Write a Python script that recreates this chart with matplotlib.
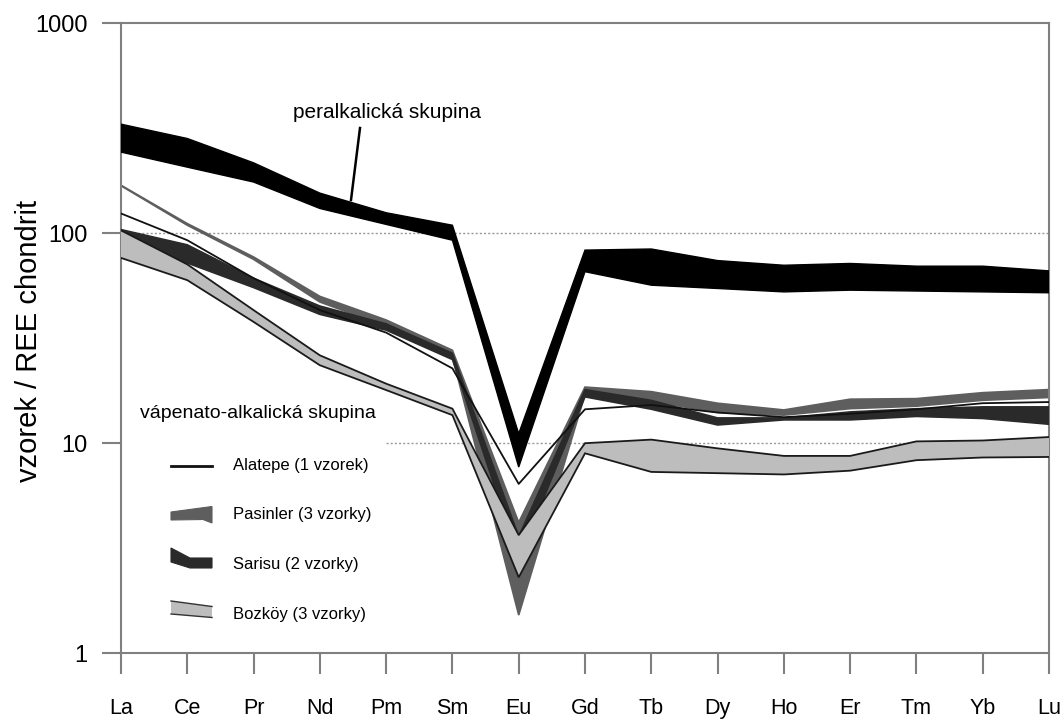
import matplotlib
matplotlib.use("Agg")
import matplotlib.pyplot as plt
from matplotlib.patches import Polygon
from matplotlib.lines import Line2D
from matplotlib.ticker import NullLocator

plt.rcParams['font.family'] = ['Liberation Sans', 'DejaVu Sans']

elements = ['La', 'Ce', 'Pr', 'Nd', 'Pm', 'Sm', 'Eu', 'Gd', 'Tb', 'Dy', 'Ho', 'Er', 'Tm', 'Yb', 'Lu']

peralk_hi = [330, 282, 216, 155, 125, 109, 11.1, 83, 84, 74, 70.3, 71.7, 69.6, 69.6, 66.1]
peralk_lo = [243, 206, 175, 131, 110, 92.5, 7.7, 65.5, 56.5, 54.5, 52.5, 53.5, 53, 52.5, 52]

alatepe = [124, 92.5, 61, 43, 33.6, 22.7, 6.4, 14.5, 15.2, 14.0, 13.3, 13.8, 14.5, 15.5, 15.7]

pasinler_hi = [169, 111, 77, 50, 38.6, 27.7, 4.2, 18.5, 17.6, 15.5, 14.4, 16.2, 16.3, 17.4, 18.0]
pasinler_lo = [168, 109, 75, 47, 36, 25.8, 1.52, 17.0, 15.8, 14.0, 13.6, 14.6, 15.0, 16.0, 16.5]

sarisu_hi = [104, 88, 61, 45, 37, 26.8, 3.6, 18.0, 16.0, 13.2, 13.2, 14.1, 14.6, 14.9, 14.9]
sarisu_lo = [102, 72, 55, 41, 34.5, 25.0, 2.8, 16.6, 14.5, 12.2, 12.9, 12.9, 13.4, 13.1, 12.3]

bozkoy_hi = [103, 71, 43, 26.2, 19.2, 14.6, 3.65, 10.0, 10.4, 9.45, 8.7, 8.7, 10.2, 10.3, 10.7]
bozkoy_lo = [76.2, 59.7, 37.8, 23.5, 17.9, 13.6, 2.3, 8.95, 7.3, 7.2, 7.1, 7.4, 8.3, 8.55, 8.6]

yticks = [1, 10, 100, 1000]
ytick_labels = ['1', '10', '100', '1000']

legend_title = 'vápenato-alkalická skupina'
legend_labels = ['Alatepe (1 vzorek)', 'Pasinler (3 vzorky)', 'Sarisu (2 vzorky)', 'Bozköy (3 vzorky)']

C_PAS = '#5e5e5e'
C_SAR = '#2a2a2a'
C_BOZ = '#bdbdbd'
C_SPINE = '#808080'

W, H = 1062, 719
fig = plt.figure(figsize=(W / 100, H / 100), dpi=100)
AX_L, AX_R, AX_T, AX_B = 121, 1049, 23, 653.3
ax = fig.add_axes([AX_L / W, 1 - AX_B / H, (AX_R - AX_L) / W, (AX_B - AX_T) / H])

x = list(range(len(elements)))

ax.set_yscale('log')
ax.set_ylim(1, 1000)
ax.set_xlim(0, len(elements) - 1)

# grid lines
ax.hlines(100, 0, len(elements) - 1, colors='#999999', linestyles=(0, (1.5, 1.5)), lw=1.0, zorder=1)
ax.hlines(10, 4, len(elements) - 1, colors='#999999', linestyles=(0, (1.5, 1.5)), lw=1.0, zorder=1)

def band(lo, hi, fc, ec, lw, z):
    ax.fill_between(x, lo, hi, facecolor=fc, edgecolor='none', lw=0, zorder=z)
    ax.plot(x, lo, color=ec, lw=lw, zorder=z + 0.1, solid_joinstyle='miter')
    ax.plot(x, hi, color=ec, lw=lw, zorder=z + 0.1, solid_joinstyle='miter')

band(pasinler_lo, pasinler_hi, C_PAS, C_PAS, 1.2, 2)
band(sarisu_lo, sarisu_hi, C_SAR, C_SAR, 1.1, 3)
band(bozkoy_lo, bozkoy_hi, C_BOZ, '#1a1a1a', 1.3, 4)
ax.plot(x, alatepe, color='#111111', lw=1.3, zorder=5)
band(peralk_lo, peralk_hi, '#000000', '#000000', 1.0, 6)

# axes styling
for s in ax.spines.values():
    s.set_color(C_SPINE)
    s.set_linewidth(1.5)
ax.set_xticks(x)
ax.set_xticklabels(elements)
ax.set_yticks(yticks)
ax.set_yticklabels(ytick_labels)
ax.yaxis.set_minor_locator(NullLocator())
ax.tick_params(axis='x', direction='out', length=15, width=1.5, color=C_SPINE,
               pad=17, labelsize=15.5)
ax.tick_params(axis='y', direction='out', length=14, width=1.5, color=C_SPINE,
               pad=10, labelsize=17)

fig.text(29 / W, 1 - 341 / H, 'vzorek / REE chondrit', rotation=90,
         ha='center', va='center', fontsize=21)

def pa(px, py):
    return ((px - AX_L) / (AX_R - AX_L), (AX_B - py) / (AX_B - AX_T))

# peralkalic annotation
ax.text(*pa(293, 113), 'peralkalická skupina', transform=ax.transAxes,
        ha='left', va='center', fontsize=15, zorder=10)
ax.add_line(Line2D(*zip(pa(360, 128), pa(351, 200)), transform=ax.transAxes,
                   color='black', lw=1.8, zorder=10))

# legend
ax.text(*pa(140, 414), legend_title, transform=ax.transAxes, ha='left', va='center',
        fontsize=14, zorder=10)
entry_y = [465.7, 515, 564, 615]
for lab, yy in zip(legend_labels, entry_y):
    ax.text(*pa(233, yy), lab, transform=ax.transAxes, ha='left', va='center',
            fontsize=12, zorder=10)

ax.add_line(Line2D(*zip(pa(171, 466), pa(212, 466)), transform=ax.transAxes,
                   color='#111111', lw=2.0, zorder=10))
ax.add_patch(Polygon([pa(171, 512), pa(212, 506.5), pa(212, 523), pa(203, 519.5), pa(171, 520)],
                     closed=True, transform=ax.transAxes, facecolor=C_PAS, edgecolor=C_PAS,
                     lw=0.8, zorder=10))
ax.add_patch(Polygon([pa(171, 548), pa(190, 558), pa(212, 558), pa(212, 568), pa(190, 568), pa(171, 562)],
                     closed=True, transform=ax.transAxes, facecolor=C_SAR, edgecolor=C_SAR,
                     lw=0.8, zorder=10))
ax.add_patch(Polygon([pa(171, 601), pa(212, 606.5), pa(212, 617.5), pa(171, 614)],
                     closed=True, transform=ax.transAxes, facecolor=C_BOZ, edgecolor='none',
                     lw=0, zorder=10))
ax.add_line(Line2D(*zip(pa(171, 601), pa(212, 606.5)), transform=ax.transAxes,
                   color='#333333', lw=1.0, zorder=11))
ax.add_line(Line2D(*zip(pa(171, 614), pa(212, 617.5)), transform=ax.transAxes,
                   color='#333333', lw=1.0, zorder=11))

fig.savefig('out.png', dpi=100)
